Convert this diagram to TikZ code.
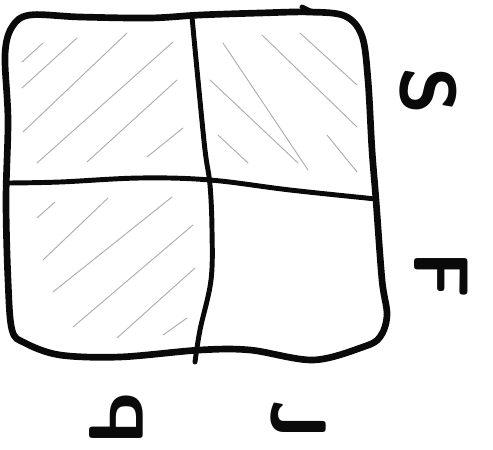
\documentclass[tikz,border=0pt]{standalone}
\usepackage{fontspec}
\usepackage{graphicx}
\usepackage{tikz}
\usepackage{xcolor}
\definecolor{ink}{HTML}{0A0A0A}
\definecolor{pencil}{HTML}{ADADAD}
\tikzset{
  frameline/.style={draw=ink,line width=5pt,line cap=round,line join=round},
  splitline/.style={draw=ink,line width=3.7pt,line cap=round},
  hatch/.style={draw=pencil,line width=0.7pt,line cap=round},
  sidelabel/.style={text=ink,inner sep=0pt,rotate=-90,
                    font=\sffamily\bfseries\fontsize{58}{58}\selectfont}
}

\begin{document}
\begin{tikzpicture}[x=0.75pt,y=-0.75pt]
    \path[use as bounding box] (0,0) rectangle (493,450);
    % pencil hatching, three shaded cells
    \draw[hatch] (22,62) -- (43,43);
    \draw[hatch] (22,88) -- (77,38);
    \draw[hatch] (23,132) -- (127,33);
    \draw[hatch] (37,163) -- (173,42);
    \draw[hatch] (87,162) -- (177,80);
    \draw[hatch] (147,157) -- (183,128);
    \draw[hatch] (223,43) -- (308,170);
    \draw[hatch] (210,80) -- (298,163);
    \draw[hatch] (218,135) -- (248,163);
    \draw[hatch] (262,35) -- (357,127);
    \draw[hatch] (300,33) -- (357,85);
    \draw[hatch] (327,135) -- (357,172);
    \draw[hatch] (37,218) -- (55,202);
    \draw[hatch] (43,260) -- (108,198);
    \draw[hatch] (53,292) -- (172,197);
    \draw[hatch] (73,327) -- (193,225);
    \draw[hatch] (117,338) -- (195,268);
    \draw[hatch] (163,335) -- (187,318);
    % outer frame
    \draw[frameline] plot[smooth cycle,tension=0.55] coordinates {
      (12,330) (8,280) (6,200) (8,120) (5,55) (12,27) (30,15)
      (80,17) (150,18) (200,15) (260,13) (310,12) (345,16) (362,36)
      (368,80) (372,150) (376,200) (382,280) (387,315) (380,337)
      (363,347) (313,360) (250,350) (200,350) (120,357) (60,355) (25,343)};
    \draw[splitline] (302,7) -- (314,13);
    % dividers
    \draw[splitline] plot[smooth,tension=0.6] coordinates {
      (192,17) (198,80) (205,150) (210,185) (212,230) (211,280) (200,330) (195,362)};
    \draw[splitline] plot[smooth,tension=0.6] coordinates {
      (8,183) (60,182) (140,178) (210,180) (290,190) (376,199)};
    % labels
    \node[sidelabel] (lblS) at (428,91) {S};
    \node[sidelabel] (lblF) at (441,275) {F};
    \node[sidelabel] (lblP) at (116,418) {\reflectbox{P}};
    \node[sidelabel] (lblJ) at (298,420) {J};
  \end{tikzpicture}
\end{document}
